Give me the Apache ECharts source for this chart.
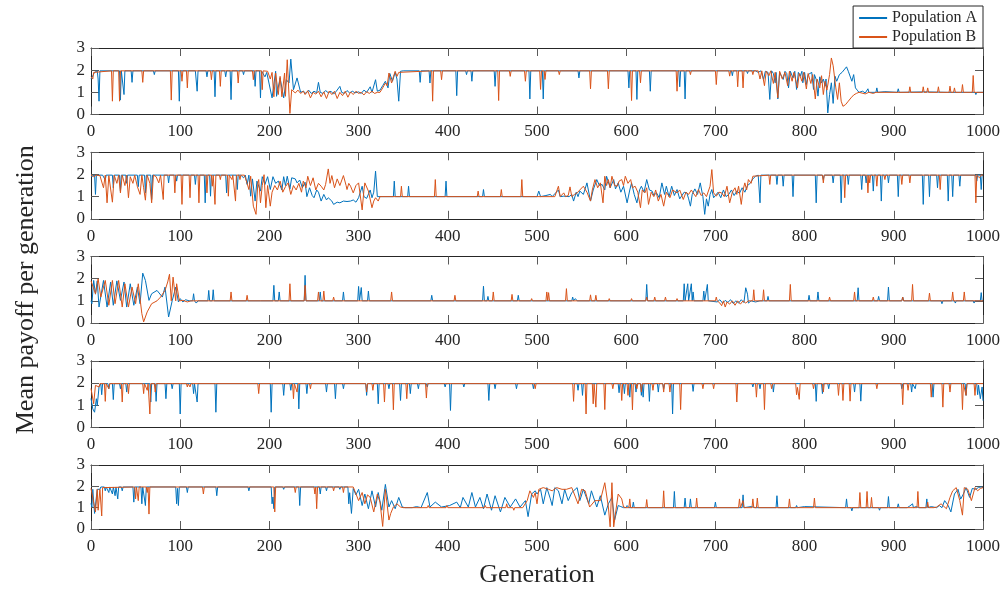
<!DOCTYPE html>
<html><head><meta charset="utf-8">
<script src="https://cdn.jsdelivr.net/npm/echarts@6/dist/echarts.min.js"></script>
<style>html,body{margin:0;padding:0;background:#fff}#c{width:1008px;height:589px}</style>
</head><body><div id="c"></div>
<script>
const seriesNames = ['Population A', 'Population B'];
const xLabelText = 'Generation';
const yLabelText = 'Mean payoff per generation';

const p1A = [[0,1.6],[2,1.75],[4,1.9],[7,1.97],[8,1.6],[9,0.6],[10,1.97],[32,1.97],[33,0.65],[34,1.97],[36,1.97],[37,0.9],[38,1.97],[45,1.97],[46,1.45],[47,1.97],[70,1.97],[71,1.8],[72,1.97],[98,1.97],[99,0.6],[100,1.97],[117,1.97],[119,1.05],[120,1.97],[129,1.97],[130,1.7],[131,1.97],[138,1.97],[139,0.8],[140,1.97],[150,1.97],[151,1.7],[152,1.97],[156,1.97],[157,0.67],[158,1.97],[170,1.97],[171,1.8],[172,1.97],[183,1.97],[184,1.27],[185,1.97],[189,1.97],[190,0.75],[191,1.97],[195,1.7],[197,1.9],
[203,0.75],[207,1.95],[208,0.82],[212,1.65],[216,0.75],[219,1.57],[222,1.42],[224,2.5],[227,1.12],[231,1.65],[235,1.0],
[238,1.05],[241,0.95],[244,1.1],[247,0.95],[250,1.05],[253,0.98],[255,1.45],[257,1.0],[260,0.95],[263,1.08],[266,0.98],[269,1.05],[272,0.92],[275,1.05],[279,1.27],[281,1.0],[284,0.95],[287,1.08],[290,0.97],[293,1.05],[296,0.98],[300,1.02],[303,0.95],[306,1.1],[309,1.0],[313,1.25],[315,1.0],[319,1.57],[321,1.05],[324,1.1],[327,1.3],[330,1.5],[333,1.2],[335,1.85],[338,1.5],[341,1.9],[343,1.6],[345,0.6],[347,1.95],[350,1.97],
[368,1.97],[369,1.45],[370,1.97],[379,1.97],[380,1.42],[381,1.97],[409,1.97],[410,0.85],[411,1.97],[420,1.97],[421,1.8],[422,1.97],[426,1.97],[427,1.5],[428,1.97],[452,1.97],[453,1.27],[454,1.97],[491,1.97],[492,0.7],[493,1.97],
[506,1.97],[507,0.7],[508,1.97],[546,1.97],[547,1.65],[548,1.97],[602,1.97],[603,1.2],[604,1.97],[611,1.97],[612,0.68],[613,1.97],[626,1.97],[627,1.05],[628,1.97],[659,1.97],[660,1.25],[661,1.97],[665,1.97],[666,0.7],[667,1.97],[700,1.97],[718,1.97],[719,1.75],[720,1.97],[735,1.97],[736,1.85],[737,1.97],
[745,1.97],[748,1.9],[751,1.97],[754,1.58],[756,1.95],[759,1.9],[761,0.68],[763,1.97],[765,1.85],[767,1.43],[768,1.9],[770,0.7],[772,1.9],[774,1.97],[776,1.58],[778,1.95],[780,1.85],[782,1.2],[784,1.95],[787,1.65],[789,1.95],[791,1.13],[793,1.9],[795,1.73],[797,1.95],[798,1.43],
[800,1.9],[802,1.35],[804,1.8],[806,1.73],[808,1.9],[810,1.13],[811,1.8],[813,1.58],[815,0.83],[817,1.7],[819,1.43],[821,1.6],[823,1.28],[824,1.6],[826,0.07],[828,0.9],[830,1.43],[832,0.5],[834,1.73],[836,1.5],[839,1.8],[842,1.9],[845,2.05],[847,2.15],[849,1.95],[851,2.0],[853,1.5],[855,1.8],[857,1.2],[859,1.1],[861,1.0],
[862,1.0],[865,1.05],[868,0.97],[870,1.0],[871,1.16],[872,1.0],[880,1.0],[881,1.2],[882,1.0],[890,1.03],[904,1.0],[905,1.16],[906,1.0],[935,1.02],[960,1.0],[991,1.0],[992,0.9],[993,1.0],[1000,1.0]];

const p1B = [[0,1.7],[2,1.6],[3,1.9],[5,1.97],[23,1.97],[24,0.6],[25,1.97],[31,1.97],[32,0.6],[33,1.97],[57,1.97],[58,1.45],[59,1.97],[89,1.97],[90,0.65],[91,1.97],[101,1.97],[102,1.5],[103,1.97],[107,1.97],[108,1.2],[109,1.97],[134,1.97],[135,1.57],[136,1.97],[144,1.97],[145,1.27],[146,1.97],[164,1.97],[165,1.42],[166,1.97],[181,1.97],[182,1.57],[183,1.97],[191,1.97],[192,1.12],[193,1.97],[198,1.95],
[201,1.6],[203,1.9],[205,0.8],[207,1.87],[210,0.9],[212,1.72],[214,0.8],[217,1.87],[218,0.82],[220,2.47],[223,0.05],[225,1.12],[229,0.97],[232,1.1],[235,0.95],
[238,1.05],[240,0.9],[243,1.07],[246,0.75],[249,1.0],[252,0.92],[255,1.05],[258,0.8],[261,1.02],[264,0.72],[267,1.05],[270,0.9],[273,1.05],[276,0.72],[279,1.0],[282,0.85],[285,1.05],[288,0.78],[291,1.02],[294,0.9],[297,1.05],[300,0.95],[303,1.0],[306,0.88],[309,1.03],[312,0.95],[315,1.05],[318,0.95],[321,1.0],[324,1.0],
[327,1.2],[330,1.42],[332,1.3],[334,1.87],[337,1.42],[339,1.7],[341,1.95],[343,1.72],[345,1.9],[347,1.97],
[382,1.97],[383,0.6],[384,1.97],[392,1.97],[393,1.57],[394,1.97],[456,1.97],[457,0.63],[458,1.97],[469,1.97],[470,1.72],[471,1.97],[486,1.97],[487,1.5],[488,1.97],
[503,1.97],[504,1.13],[505,1.97],[508,1.97],[509,1.58],[510,1.97],[524,1.97],[525,1.8],[526,1.97],[559,1.97],[560,1.16],[561,1.97],[579,1.97],[580,1.16],[581,1.97],[605,1.97],[606,0.63],[607,1.97],[615,1.97],[616,1.43],[617,1.97],[656,1.97],[657,1.05],[658,1.97],[671,1.97],[672,1.8],[673,1.97],[700,1.97],[701,1.35],[702,1.97],[715,1.97],[716,1.73],[717,1.97],[724,1.97],[725,1.25],[726,1.97],[730,1.97],[731,1.2],[732,1.97],[741,1.97],[742,1.8],[743,1.97],
[748,1.97],[750,1.6],[752,1.97],[755,1.3],[757,1.95],[760,1.75],[762,1.97],[765,1.4],[767,1.9],[770,0.75],[772,1.95],[775,1.6],[778,1.9],[781,1.3],[783,1.95],[786,1.5],[788,1.9],[792,1.2],[794,1.85],[797,1.5],[799,1.9],[802,1.15],[804,1.85],[807,1.4],[809,1.8],[812,0.7],[814,1.6],[817,1.2],[819,1.75],[821,0.9],[823,1.5],
[825,1.1],[828,1.8],[830,2.55],[832,2.2],[835,1.2],[837,0.68],[839,1.43],[841,0.6],[843,0.37],[846,0.45],[849,0.6],[852,0.75],[855,0.88],[858,0.95],[861,1.0],
[868,0.93],[872,1.0],[877,0.95],[880,1.0],
[917,1.0],[918,1.25],[919,1.0],[932,1.0],[933,1.25],[934,1.0],[937,1.0],[938,1.2],[939,1.0],[949,1.0],[950,1.25],[951,1.0],[962,1.0],[963,1.28],[964,1.0],[967,1.0],[968,1.2],[969,1.0],[976,1.0],[977,1.35],[978,1.0],[988,1.0],[989,1.76],[990,1.0],[1000,1.0]];

const p2A = [[0,1.9],[2,1.97],[4,1.97],[5,1.1],[6,1.95],[9,1.97],[13,1.97],[16,1.75],[17,1.97],[24,1.97],[25,1.4],[26,1.97],[32,1.97],[33,1.25],[34,1.97],[39,1.97],[40,1.6],[41,1.97],[52,1.97],[53,1.45],[54,1.97],[60,1.97],[61,1.17],[62,1.97],[67,1.97],[68,0.87],[69,1.97],[75,1.97],[76,1.9],[77,1.97],[86,1.97],[87,1.62],[88,1.97],[95,1.97],[96,1.7],[97,1.97],[116,1.97],[117,1.55],[118,1.97],[127,1.97],[128,0.72],[129,1.97],[133,1.97],[134,1.02],[135,1.97],[151,1.97],[152,1.17],[153,1.97],[163,1.97],[164,1.32],[165,1.97],[168,1.97],[169,1.92],[171,1.85],[173,1.97],
[175,1.55],[177,1.97],[179,1.02],[181,1.8],[184,0.8],[186,1.7],[190,1.25],[192,1.9],[195,1.55],[198,1.9],[201,1.32],[204,1.9],[207,1.6],[210,1.7],[212,1.77],[214,1.3],[216,1.9],[218,1.5],[220,1.92],[223,1.35],[225,1.85],[229,1.8],
[231,1.62],[234,1.75],[237,1.4],[240,1.65],[242,1.0],[245,1.4],[248,1.05],[250,0.95],[253,1.3],[255,1.2],[258,0.8],[261,1.1],[264,0.85],[266,0.95],[270,0.8],[272,0.65],[276,0.75],[279,0.72],[283,0.8],[287,0.78],[291,0.8],[294,0.85],[297,0.75],[300,0.95],
[304,1.47],[306,1.0],[309,0.92],[313,1.3],[315,0.95],[317,1.2],[319,2.15],[321,1.0],[324,1.0],
[339,1.0],[340,1.7],[341,1.0],[355,1.0],[356,1.47],[357,1.0],[397,1.0],[398,1.7],[399,1.0],[439,1.0],[440,1.32],[441,1.0],[482,1.0],[483,1.05],[500,1.0],[502,1.25],[504,1.0],
[510,1.05],[515,1.1],[517,1.0],[524,1.3],[526,1.0],[530,1.02],
[536,1.0],[539,1.1],[541,0.8],[544,1.2],[546,1.0],[548,1.25],[552,1.1],[556,1.62],[560,0.8],[563,1.3],[567,1.77],[570,1.5],[573,1.55],[576,1.3],[578,1.92],
[582,1.4],[586,1.77],[588,1.35],[591,1.62],[594,1.2],[597,1.47],[601,0.72],[604,1.3],[606,1.62],[609,1.1],[612,0.72],[615,1.3],[617,1.47],[620,1.2],[623,1.77],[626,1.3],[629,1.25],[631,1.05],[634,1.17],[637,0.95],[640,1.62],[643,1.1],[645,1.47],[648,1.0],[651,1.47],[654,1.05],[657,1.32],[660,0.9],[662,0.95],[665,1.2],[668,1.17],[670,0.9],[672,0.57],[674,1.1],
[677,1.35],[680,1.1],[683,1.62],[686,1.0],[688,0.2],[690,0.9],[692,0.57],[694,1.1],[696,1.32],[698,0.95],[700,1.05],
[703,1.2],[706,0.95],[709,1.3],[712,1.0],[715,1.1],[718,1.3],[721,1.05],[724,1.25],[727,1.15],[730,1.4],[733,1.2],[736,1.5],[739,1.6],[742,1.8],[745,1.92],[748,1.97],
[749,1.97],[750,0.72],[751,1.97],[768,1.97],[769,1.55],[770,1.97],[775,1.97],[776,1.47],[777,1.97],[786,1.97],[787,1.0],[788,1.97],[812,1.97],[813,0.72],[814,1.97],[820,1.97],[821,1.77],[822,1.97],[831,1.97],[832,1.62],[833,1.97],[840,1.97],[841,0.72],[842,1.97],[848,1.97],[849,1.55],[850,1.97],[863,1.97],[864,1.32],[865,1.97],[868,1.97],[869,1.62],[870,1.97],[876,1.97],[877,1.25],[878,1.97],[885,1.97],[886,0.8],[887,1.97],[893,1.97],[894,1.62],[895,1.97],[904,1.97],[905,1.0],[906,1.97],[932,1.97],[933,0.65],[934,1.97],[939,1.97],[940,1.0],[941,1.97],[948,1.97],[949,1.4],[950,1.97],[960,1.97],[961,0.8],[962,1.97],[965,1.97],[966,1.0],[967,1.97],[973,1.97],[974,1.47],[975,1.97],[992,1.97],[993,1.7],[994,1.97],[997,1.97],[998,1.32],[999,1.97],[1000,1.97]];

const p2B = [[0,1.97],[3,1.9],[6,1.97],[10,1.95],[14,1.4],[16,1.97],[18,0.72],[20,1.95],[22,1.9],[24,0.75],[26,1.97],[29,1.6],[31,1.97],[33,1.17],[35,1.97],[38,1.5],[40,1.97],[42,0.95],[44,1.9],[47,1.6],[49,1.97],[50,1.92],[52,1.45],[55,1.1],[57,1.97],[59,1.4],[61,0.84],[63,1.97],[66,1.6],[68,0.72],[70,1.97],[73,1.9],[76,1.62],[78,1.97],
[80,1.97],[81,0.87],[82,1.97],[93,1.97],[94,1.17],[95,1.97],[101,1.97],[102,0.65],[103,1.97],[110,1.97],[111,0.95],[112,1.97],[120,1.97],[121,0.72],[122,1.97],[129,1.97],[130,1.17],[131,1.97],[135,1.97],[136,1.47],[137,1.97],[138,1.97],[139,0.65],[140,1.97],[144,1.97],[145,1.77],[146,1.97],[153,1.97],[154,1.02],[155,1.97],[157,1.97],[158,1.77],[159,1.97],[161,1.97],[162,0.8],[163,1.97],[166,1.97],[167,1.77],[168,1.97],
[172,1.97],[175,1.6],[177,1.32],[179,1.92],[180,1.97],[182,0.57],[185,0.2],[187,1.6],[188,1.77],[190,0.72],[192,1.5],[194,1.99],[196,0.5],[198,1.5],[199,1.47],[201,0.57],[203,1.2],[206,1.5],[209,1.3],[212,1.7],[215,1.2],[218,1.45],[221,1.62],[224,1.1],[227,1.5],[230,1.3],
[233,1.6],[236,1.2],[238,1.7],[241,1.4],[243,1.92],[246,1.5],[249,1.85],[252,1.3],[255,1.6],[258,1.47],[261,1.3],[263,1.55],[266,2.25],[268,1.6],[270,1.95],[273,1.4],[276,1.8],[279,1.5],[283,1.95],[286,1.5],[287,1.32],[289,1.6],[291,1.47],[294,1.17],[297,1.5],[300,1.62],
[304,0.4],[306,1.3],[307,1.62],[311,1.25],[315,0.5],[317,0.8],[319,0.95],[322,0.8],[324,1.0],[326,1.0],
[347,1.0],[348,1.47],[349,1.0],[385,1.0],[386,1.77],[387,1.0],[433,1.0],[434,1.25],[435,1.0],[459,1.0],[460,1.32],[461,1.0],[482,1.0],[483,1.77],[484,1.0],
[500,1.0],[520,1.0],[522,1.05],[524,1.47],[526,1.0],[530,1.17],[532,1.0],[535,1.05],[537,1.44],[539,1.0],
[542,1.1],[545,1.17],[548,1.3],[552,1.47],[556,1.2],[560,0.8],[562,1.3],[565,1.77],[568,1.4],[571,1.62],[574,0.72],[576,1.92],[578,1.5],[580,1.77],
[582,1.4],[584,1.92],[587,1.5],[590,1.47],[592,1.7],[595,1.77],[597,1.5],[599,1.92],[602,1.6],[605,1.77],[607,1.4],[610,1.47],[613,1.2],[616,0.5],[618,1.3],[621,1.17],[623,1.4],[625,0.65],[628,1.2],[631,1.0],[633,1.3],[636,0.8],[639,1.1],[642,0.57],[645,1.2],[649,0.95],[652,1.3],[657,1.17],[660,1.3],[664,0.87],[667,1.2],[670,1.1],[673,1.3],[675,1.17],
[678,1.0],[681,1.32],[684,1.05],[687,1.17],[690,1.0],[694,1.47],[696,2.22],[698,1.17],[701,1.02],
[704,1.2],[707,1.17],[710,1.0],[713,1.47],[716,0.72],[719,1.2],[722,1.4],[724,1.1],[726,1.47],[729,0.65],[731,1.3],[733,1.62],[735,1.3],[737,1.77],[740,1.6],[742,1.92],[744,1.97],
[760,1.97],[761,1.55],[762,1.97],[820,1.97],[821,1.62],[822,1.97],[844,1.97],[845,0.95],[846,1.97],[870,1.97],[871,1.17],[872,1.97],[873,1.62],[874,1.97],[880,1.97],[881,1.47],[882,1.97],[889,1.97],[890,1.77],[891,1.97],[908,1.97],[909,1.55],[910,1.97],[917,1.97],[918,1.62],[919,1.97],[951,1.97],[952,1.32],[953,1.97],[991,1.97],[992,0.72],[993,1.97],[996,1.85],[998,1.97],[1000,1.97]];

const p3A = [[0,1.0],[1,0.87],[3,1.92],[5,1.3],[7,1.9],[9,0.72],[14,1.92],[18,0.72],[22,1.85],[25,0.8],[29,1.9],[33,1.02],[37,1.85],[40,0.72],[44,1.77],[48,0.8],[52,1.62],[55,0.87],[58,2.25],[61,1.92],[65,1.02],
[68,1.32],[74,1.47],[80,1.17],[83,1.62],[87,0.27],[91,1.0],[95,1.62],[98,0.95],[100,1.1],[103,0.95],[106,1.05],
[110,1.0],[114,1.0],[115,1.32],[116,1.0],[118,0.9],[120,1.0],[131,1.0],[132,1.47],[133,1.0],[136,1.0],[137,1.5],[138,1.0],[190,1.0],[191,0.95],[192,1.0],[204,1.0],[205,1.7],[206,1.0],[210,1.0],[211,1.4],[212,1.0],[239,1.0],[240,2.15],[241,1.0],[256,1.0],[257,1.4],[258,1.0],[282,1.0],[283,1.4],[284,1.0],[299,1.0],[300,1.65],[301,1.0],[302,1.0],[303,1.6],[304,1.0],[310,1.0],[311,1.44],[312,1.0],[381,1.0],[382,1.25],[383,1.0],[439,1.0],[440,1.66],[441,1.0],[444,1.0],[445,1.2],[446,1.0],[478,1.0],[479,1.25],[480,1.0],
[539,1.0],[540,1.17],[541,1.0],[543,1.1],[545,1.0],[622,1.0],[623,1.74],[624,1.0],[664,1.0],[665,1.77],[666,1.0],[668,1.0],[669,1.77],[670,1.0],[672,1.0],[673,1.77],[674,1.0],[675,1.4],[676,1.0],[686,1.0],[687,1.44],[688,1.0],[690,1.0],[691,1.74],[692,1.0],
[702,0.95],[705,1.05],[708,0.9],[711,1.02],[714,0.93],[717,1.05],[720,0.88],[723,1.0],[726,0.9],[729,1.05],[732,0.92],[734,1.59],[736,1.3],[737,0.9],[740,1.0],[745,0.95],[750,1.0],
[758,1.0],[759,1.2],[760,1.0],[804,1.0],[805,1.25],[806,1.0],[814,1.0],[815,1.4],[816,1.0],[859,1.0],[860,1.59],[861,1.0],[882,1.0],[883,1.2],[884,1.0],[893,1.0],[894,1.62],[895,1.0],[909,1.0],[910,1.17],[911,1.0],[953,1.0],[954,0.87],[955,1.0],[968,1.0],[969,0.9],[970,1.0],[989,1.0],[990,0.9],[991,1.0],[997,1.0],[998,1.37],[999,1.0],[1000,1.0]];

const p3B = [[0,1.9],[2,1.92],[5,1.32],[8,1.99],[11,1.17],[16,1.92],[20,0.8],[24,1.92],[27,0.87],[31,1.92],[35,0.72],[38,1.77],[42,0.72],[46,1.62],[50,0.87],[53,1.77],[57,0.42],[59,0.05],[63,0.5],[68,0.87],[74,1.0],
[78,1.17],[83,1.47],[86,1.85],[88,2.2],[90,1.0],[92,2.07],[95,1.0],[96,1.77],[99,1.0],[103,1.02],[108,0.95],[112,1.0],
[156,1.0],[157,1.4],[158,1.0],[174,1.0],[175,1.25],[176,1.0],[222,1.0],[223,1.77],[224,1.0],[239,1.0],[240,1.7],[241,1.0],[254,1.0],[255,1.4],[256,1.0],[260,1.0],[261,1.44],[262,1.0],[271,1.0],[272,1.17],[273,1.0],[336,1.0],[337,1.4],[338,1.0],[407,1.0],[408,1.25],[409,1.0],[450,1.0],[451,1.4],[452,1.0],[471,1.0],[472,1.29],[473,1.0],[493,1.0],[494,1.1],[495,1.0],
[510,1.0],[511,1.4],[512,1.0],[513,1.37],[514,1.0],[532,1.0],[533,1.55],[534,1.0],[559,1.0],[560,1.27],[561,1.0],[565,1.0],[566,1.25],[567,1.0],[580,1.0],[581,1.1],[582,1.0],[605,1.0],[606,1.1],[607,1.0],[622,1.0],[623,1.17],[624,1.0],[631,1.0],[632,1.17],[633,1.0],[643,1.0],[644,1.17],[645,1.0],[656,1.0],[657,1.1],[658,1.0],[700,1.0],[701,1.17],[702,1.0],
[705,0.9],[707,0.78],[709,1.0],[711,0.72],[713,0.95],[716,0.85],[719,1.0],[722,0.8],[725,1.0],[728,0.85],[731,1.0],[734,0.9],[737,1.0],[742,1.0],[743,1.5],[744,1.0],[753,1.0],[754,1.5],[755,1.0],[783,1.0],[784,1.74],[785,1.0],[827,1.0],[828,1.17],[829,1.0],[855,1.0],[856,1.4],[857,1.0],[876,1.0],[877,1.17],[878,1.0],[909,1.0],[910,1.17],[911,1.0],[920,1.0],[921,1.74],[922,1.0],[939,1.0],[940,1.35],[941,1.0],[965,1.0],[966,1.4],[967,1.0],[978,1.0],[979,1.4],[980,1.0],[1000,1.0]];

const p4A = [[0,1.3],[2,0.83],[4,0.68],[6,1.29],[7,0.98],[9,1.82],[10,1.89],[11,1.97],[12,1.47],[13,1.97],[19,1.97],[20,1.74],[21,1.97],[24,1.97],[25,1.25],[26,1.97],[32,1.97],[33,1.74],[34,1.97],[39,1.97],[40,1.59],[41,1.97],[66,1.97],[67,1.14],[68,1.97],[72,1.97],[73,1.17],[74,1.97],[83,1.97],[84,1.29],[85,1.97],[90,1.97],[91,1.74],[92,1.97],[99,1.97],[100,0.6],[101,1.97],[114,1.97],[115,1.52],[116,1.97],[118,1.97],[119,1.14],[120,1.97],[139,1.97],[140,0.68],[141,1.97],[201,1.97],[202,0.68],[203,1.97],[215,1.97],[216,1.44],[217,1.97],[223,1.97],[224,1.67],[225,1.97],[232,1.97],[233,0.83],[234,1.97],[241,1.97],[242,1.52],[243,1.97],[263,1.97],[264,1.59],[265,1.97],[273,1.97],[274,1.29],[275,1.97],[282,1.97],[283,1.74],[284,1.97],[308,1.97],[309,1.44],[310,1.97],[321,1.97],[322,1.06],[323,1.97],[333,1.97],[334,1.74],[335,1.97],[346,1.97],[347,1.21],[348,1.97],[357,1.97],[358,1.52],[359,1.97],[366,1.97],[367,1.74],[368,1.97],[376,1.97],[377,1.82],[378,1.97],[396,1.97],[397,1.82],[398,1.97],[402,1.97],[403,0.76],[404,1.97],[417,1.97],[418,1.82],[419,1.97],[445,1.97],[446,1.21],[447,1.97],[452,1.97],[453,1.74],[454,1.97],[476,1.97],[477,1.74],[478,1.97],[495,1.97],[496,1.74],[497,1.97],
[545,1.97],[546,1.67],[547,1.97],[550,1.97],[551,1.44],[552,1.97],[591,1.97],[592,1.56],[593,1.97],[597,1.97],[598,1.52],[599,1.97],[603,1.97],[604,1.36],[605,1.97],[610,1.97],[611,1.59],[612,1.97],[616,1.97],[617,1.44],[618,1.97],[619,1.36],[620,1.97],[625,1.97],[626,1.17],[627,1.97],[635,1.97],[636,1.59],[637,1.97],[641,1.97],[642,1.74],[643,1.97],[651,1.97],[652,0.6],[653,1.97],[674,1.97],[675,1.62],[676,1.97],[741,1.97],[742,1.82],[743,1.97],[749,1.97],[750,1.74],[751,1.97],[764,1.97],[765,1.59],[766,1.97],[812,1.97],[813,1.17],[814,1.97],[819,1.97],[820,1.52],[821,1.97],[826,1.97],[827,1.74],[828,1.97],[855,1.97],[856,1.59],[857,1.97],[862,1.97],[863,1.18],[864,1.97],[908,1.97],[909,1.74],[910,1.97],[919,1.97],[920,1.59],[921,1.97],[923,1.97],[924,1.74],[925,1.97],[943,1.97],[944,1.36],[945,1.97],[980,1.97],[981,1.44],[982,1.97],[993,1.97],[994,1.47],[995,1.9],[997,1.29],[999,1.82],[1000,1.2]];

const p4B = [[0,1.75],[1,1.82],[3,1.06],[5,1.89],[7,1.89],[9,1.82],[10,1.97],[15,1.97],[16,1.17],[17,1.97],[19,1.97],[20,1.74],[21,1.97],[34,1.97],[35,1.14],[36,1.97],[41,1.97],[42,1.52],[43,1.97],[58,1.97],[59,1.52],[60,1.97],[62,1.97],[63,1.67],[64,1.97],[65,1.97],[66,0.6],[67,1.97],[71,1.97],[72,1.59],[73,1.97],[107,1.97],[108,1.82],[109,1.97],[110,1.97],[111,1.82],[112,1.97],[187,1.97],[188,1.52],[189,1.97],[226,1.97],[227,1.29],[228,1.97],[230,1.97],[231,1.59],[232,1.97],[245,1.97],[246,1.74],[247,1.97],[308,1.97],[309,1.59],[310,1.97],[315,1.97],[316,1.67],[317,1.97],[328,1.97],[329,1.14],[330,1.97],[338,1.97],[339,0.79],[340,1.97],[353,1.97],[354,1.29],[355,1.97],[375,1.97],[376,1.32],[377,1.97],[497,1.97],[498,1.74],[499,1.97],
[540,1.97],[541,1.17],[542,1.97],[554,1.97],[555,0.6],[556,1.97],[562,1.97],[563,1.06],[564,1.97],[565,1.97],[566,0.91],[567,1.97],[575,1.97],[576,0.8],[577,1.97],[584,1.97],[585,1.74],[586,1.97],[594,1.97],[595,1.21],[596,1.97],[601,1.97],[602,1.44],[603,1.97],[606,1.97],[607,0.79],[608,1.97],[611,1.97],[612,1.74],[613,1.97],[616,1.97],[617,1.59],[618,1.97],[629,1.97],[630,1.67],[631,1.97],[641,1.97],[642,1.59],[643,1.97],[648,1.97],[649,1.59],[650,1.97],[660,1.97],[661,0.8],[662,1.97],[685,1.97],[686,1.74],[687,1.97],[697,1.97],[698,1.74],[699,1.97],[723,1.97],[724,1.14],[725,1.97],[745,1.97],[746,1.36],[747,1.97],[754,1.97],[755,0.8],[756,1.97],[762,1.97],[763,1.74],[764,1.97],[790,1.97],[791,1.47],[792,1.8],[794,1.26],[795,1.97],[809,1.97],[810,1.74],[811,1.97],[820,1.97],[821,1.59],[822,1.97],[837,1.97],[838,1.44],[839,1.97],[842,1.97],[843,1.21],[844,1.97],[850,1.97],[851,1.18],[852,1.97],[880,1.97],[881,1.74],[882,1.97],[909,1.97],[910,1.02],[911,1.97],[915,1.97],[916,1.67],[917,1.97],[941,1.97],[942,1.36],[943,1.97],[954,1.97],[955,0.91],[956,1.97],[962,1.97],[963,1.59],[964,1.97],[976,1.97],[977,0.8],[978,1.97],[980,1.97],[981,1.44],[982,1.97],[990,1.97],[991,1.44],[992,1.97],[1000,1.97]];

const p5A = [[0,1.2],[1,1.03],[2,1.86],[4,0.73],[7,1.86],[10,1.86],[11,1.97],[15,1.97],[16,1.79],[17,1.97],[19,1.97],[20,1.71],[21,1.97],[23,1.97],[24,1.64],[25,1.97],[26,1.97],[27,1.56],[28,1.97],[29,1.97],[30,1.41],[31,1.97],[34,1.97],[35,1.79],[36,1.97],[47,1.97],[48,1.26],[49,1.97],[56,1.97],[57,1.18],[58,1.97],[60,1.97],[61,1.1],[62,1.97],[95,1.97],[96,1.18],[97,1.9],[98,1.1],[99,1.97],[107,1.97],[108,1.71],[109,1.97],[140,1.97],[141,1.56],[142,1.97],[176,1.97],[177,1.79],[178,1.97],[202,1.97],[203,1.18],[204,1.5],[205,0.95],[206,1.97],[215,1.97],[216,1.86],[217,1.97],[233,1.97],[234,1.1],[235,1.97],[256,1.97],[257,1.64],[258,1.97],[263,1.97],[264,1.79],[265,1.97],[278,1.97],[279,1.86],[280,1.97],[288,1.97],[289,1.18],[290,1.7],[292,0.73],[294,1.9],
[297,1.6],[300,1.86],[304,1.1],[307,1.64],[311,0.95],[315,1.79],[319,1.03],[322,1.71],[326,0.88],[330,2.09],[334,1.03],[337,1.33],[341,0.95],[345,1.48],[349,1.03],[352,1.0],
[360,1.0],[365,1.05],[370,1.0],[377,1.71],[380,1.03],[386,1.26],[393,1.03],[402,1.1],[410,1.26],[414,1.0],[417,1.48],[423,1.03],[427,1.71],[431,1.03],[436,1.48],[440,0.95],[444,1.64],[449,0.88],[453,1.56],[459,0.8],[464,1.48],[470,1.03],[476,1.41],[481,1.03],[487,1.33],[490,0.58],[494,1.64],[498,1.79],
[500,1.64],[504,1.86],[507,1.18],[511,1.94],[515,1.41],[517,1.1],[520,1.94],[524,1.79],[528,1.18],[531,1.86],[535,1.33],[539,1.71],[545,1.94],[548,1.33],[552,1.86],[558,1.18],[561,1.79],[567,1.03],[571,1.56],[576,0.65],[580,1.18],[584,1.48],[587,0.42],[591,1.1],[594,1.05],[597,1.0],
[600,1.0],[601,1.1],[603,1.0],[607,1.0],[608,1.26],[609,1.0],[620,1.0],[622,1.05],[624,1.0],[653,1.0],[654,1.76],[655,1.0],[665,1.0],[666,1.45],[667,1.0],[671,1.0],[672,1.41],[673,1.0],[699,1.0],[700,1.26],[701,1.0],[730,1.0],[731,1.6],[732,1.0],[740,1.05],[745,1.0],[768,1.0],[769,1.56],[770,1.0],[790,1.0],[791,1.1],[792,1.0],[800,1.05],[802,1.0],[846,1.0],[847,1.41],[848,1.0],[852,1.0],[853,0.85],[854,1.0],[883,1.0],[884,0.88],[885,1.0],[893,1.0],[894,1.52],[895,1.0],[904,1.0],[905,1.18],[906,1.0],[915,1.0],[918,1.08],[921,1.18],[922,1.0],[925,1.05],[928,1.0],[936,1.0],[937,1.41],[938,1.0],[942,1.05],
[948,1.0],[951,1.1],[954,1.0],[957,1.33],[961,1.1],[964,0.8],[968,1.64],[972,1.86],[975,1.4],[978,1.64],[981,1.94],[985,1.48],[988,1.9],[992,1.86],[995,1.95],[998,1.97],[1000,1.94]];

const p5B = [[0,1.9],[1,1.86],[5,0.8],[7,1.86],[8,0.88],[10,1.86],[12,0.61],[13,1.94],[14,1.97],
[49,1.97],[50,1.41],[51,1.97],[52,1.97],[53,1.33],[54,1.97],[62,1.97],[63,1.71],[64,1.97],[65,0.7],[66,1.97],[125,1.97],[126,1.64],[127,1.97],[205,1.97],[206,0.8],[207,1.97],[228,1.97],[229,1.71],[230,1.97],[250,1.97],[251,1.64],[252,1.97],[253,0.95],[254,1.97],[271,1.97],[272,1.79],[273,1.97],[282,1.97],[283,1.71],[284,1.97],
[294,1.97],[296,1.94],[300,1.33],[304,1.71],[307,1.18],[310,1.6],[313,1.48],[317,0.8],[321,1.64],[324,1.26],[327,0.12],[330,1.86],[334,0.42],[336,0.73],[339,1.03],[343,1.18],[347,1.03],[350,1.0],
[377,1.0],[378,1.1],[379,1.0],[398,1.0],[399,1.1],[400,1.0],[417,1.0],[418,0.95],[419,1.0],[441,1.0],[442,1.1],[443,1.0],[465,1.0],[466,1.18],[467,1.0],[473,1.0],[474,0.88],[475,1.0],[484,1.0],[485,1.03],[489,1.33],[492,1.79],[496,1.48],[498,1.7],
[500,1.18],[502,1.86],[507,1.94],[513,1.86],[517,1.79],[522,1.94],[528,1.86],[533,1.86],[539,1.94],[546,1.18],[550,1.86],[554,1.79],[559,1.03],[565,1.33],[571,1.33],[576,2.17],[580,1.03],[582,0.1],[584,2.17],[586,0.1],[589,1.03],[591,1.64],[595,1.41],[597,1.03],[600,1.0],
[603,1.0],[604,1.41],[605,1.0],[622,1.0],[623,1.38],[624,1.0],[641,1.0],[642,1.79],[643,1.0],[678,1.0],[679,1.45],[680,1.0],[712,1.0],[713,1.06],[714,1.0],[726,1.0],[727,1.41],[728,1.0],[730,1.0],[731,1.33],[732,1.0],[741,1.0],[742,1.41],[743,1.0],[746,1.0],[747,1.45],[748,1.0],[782,1.0],[783,1.41],[784,1.0],[810,1.0],[811,1.45],[812,1.0],[861,1.0],[862,1.71],[863,1.0],[869,1.0],[870,1.76],[871,1.0],[874,1.0],[875,1.48],[876,1.0],[926,1.0],[927,1.76],[928,1.0],[937,1.0],[938,1.26],[939,1.0],
[945,1.0],[948,1.03],[953,1.18],[959,0.95],[963,1.48],[966,1.79],[970,1.94],[974,1.33],[977,0.65],[979,1.94],[983,1.86],[987,1.33],[991,1.94],[994,1.79],[997,1.9],[1000,1.94]];

const panels = [[p1A, p1B], [p2A, p2B], [p3A, p3B], [p4A, p4B], [p5A, p5B]];
const xRange = [0, 1000], xStep = 100;
const yRange = [0, 3], yStep = 1;

const FONT = '"Liberation Serif", "Times New Roman", serif';
const AX = '#262626';
const TICK = '#5a5a5a';
const COLORS = ['#0072BD', '#D95319'];
const tops = [48, 152.3, 256.5, 360.8, 465];
const H = 66.5;

const grids = [], xAxes = [], yAxes = [], series = [];
panels.forEach((pair, i) => {
  grids.push({left: 91, right: 25, top: tops[i], height: H});
  const common = {
    type: 'value', gridIndex: i, min: xRange[0], max: xRange[1], interval: xStep,
    axisLine: {show: true, onZero: false, lineStyle: {color: AX, width: 1}},
    axisTick: {show: true, inside: true, length: 8, lineStyle: {color: TICK, width: 1}},
    splitLine: {show: false}
  };
  xAxes.push(Object.assign({}, common, {position: 'bottom',
    axisLabel: {show: true, fontFamily: FONT, fontSize: 17, color: AX, margin: 9, formatter: v => String(v)},
    name: i === 4 ? xLabelText : '', nameLocation: 'middle', nameGap: 33,
    nameTextStyle: {fontFamily: FONT, fontSize: 26, color: AX}}));
  xAxes.push(Object.assign({}, common, {position: 'top', axisLabel: {show: false}}));
  const ycommon = {
    type: 'value', gridIndex: i, min: yRange[0], max: yRange[1], interval: yStep,
    axisLine: {show: true, onZero: false, lineStyle: {color: AX, width: 1}},
    axisTick: {show: true, inside: true, length: 8, lineStyle: {color: TICK, width: 1}},
    splitLine: {show: false}
  };
  yAxes.push(Object.assign({}, ycommon, {position: 'left',
    axisLabel: {show: true, fontFamily: FONT, fontSize: 17, color: AX, margin: 6, formatter: v => String(v)},
    name: i === 2 ? yLabelText : '', nameLocation: 'middle', nameGap: 52, nameRotate: 90,
    nameTextStyle: {fontFamily: FONT, fontSize: 26, color: AX}}));
  yAxes.push(Object.assign({}, ycommon, {position: 'right', axisLabel: {show: false}}));
  pair.forEach((d, k) => {
    series.push({
      type: 'line', name: seriesNames[k], xAxisIndex: 2 * i, yAxisIndex: 2 * i,
      data: d, showSymbol: false, symbol: 'none', silent: true,
      lineStyle: {color: COLORS[k], width: 1}, itemStyle: {color: COLORS[k]},
      z: 2 + k
    });
  });
});

const chart = echarts.init(document.getElementById('c'), null, {renderer: 'canvas'});
chart.setOption({
  animation: false,
  backgroundColor: '#fff',
  grid: grids, xAxis: xAxes, yAxis: yAxes, series: series,
  legend: {
    data: seriesNames, orient: 'vertical', right: 25, top: 6,
    backgroundColor: '#fff', borderColor: AX, borderWidth: 1, borderRadius: 0,
    padding: [4, 6, 3, 6], itemGap: 3, itemWidth: 28, itemHeight: 2, icon: 'rect',
    textStyle: {fontFamily: FONT, fontSize: 16, color: AX, lineHeight: 16},
    selectedMode: false
  }
});
</script></body></html>
